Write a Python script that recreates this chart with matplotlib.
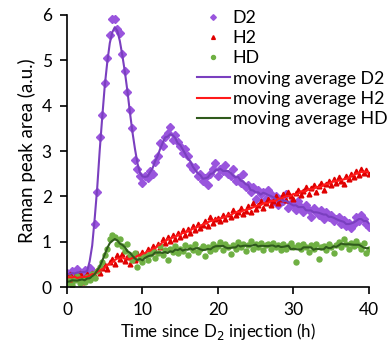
import matplotlib
matplotlib.use("Agg")
import matplotlib.pyplot as plt
import numpy as np
import pandas as pd

plt.rcParams["font.family"] = ["Lato", "DejaVu Sans"]

# -- Data (one sample every 1/3 h) ---------------------------------------------
time_h = np.linspace(0, 40, 121)

d2 = [0.30, 0.22, 0.35, 0.28, 0.40, 0.25, 0.32, 0.38, 0.30, 0.42,
      0.35, 1.40, 2.10, 3.30, 3.80, 4.50, 5.05, 5.55, 5.90, 5.90,
      5.70, 5.60, 5.15, 4.77, 4.30, 3.90, 3.50, 2.80, 2.60, 2.45,
      2.30, 2.45, 2.40, 2.55, 2.50, 2.75, 2.90, 3.17, 3.10, 3.30,
      3.40, 3.54, 3.25, 3.36, 3.20, 3.10, 2.95, 3.05, 2.88, 2.70,
      2.60, 2.65, 2.45, 2.50, 2.35, 2.40, 2.25, 2.50, 2.60, 2.73,
      2.45, 2.60, 2.55, 2.70, 2.50, 2.45, 2.60, 2.35, 2.40, 2.30,
      2.50, 2.20, 2.25, 2.10, 2.20, 1.95, 2.15, 2.05, 2.10, 1.95,
      2.15, 2.05, 1.90, 2.00, 1.80, 1.95, 1.90, 2.05, 1.75, 1.85,
      1.80, 1.70, 1.90, 1.77, 1.65, 1.80, 1.70, 1.55, 1.75, 1.65,
      1.60, 1.70, 1.50, 1.65, 1.55, 1.60, 1.45, 1.50, 1.55, 1.40,
      1.48, 1.35, 1.42, 1.30, 1.40, 1.55, 1.45, 1.60, 1.50, 1.40,
      1.33]

h2 = [0.20, 0.28, 0.15, 0.25, 0.18, 0.30, 0.12, 0.22, 0.28, 0.20,
      0.32, 0.25, 0.38, 0.30, 0.42, 0.48, 0.40, 0.55, 0.62, 0.50,
      0.70, 0.62, 0.72, 0.58, 0.66, 0.52, 0.70, 0.60, 0.75, 0.64,
      0.78, 0.70, 0.85, 0.75, 0.90, 0.80, 0.95, 0.88, 1.05, 0.98,
      1.10, 1.02, 1.15, 1.05, 1.20, 1.10, 1.25, 1.15, 1.28, 1.20,
      1.35, 1.25, 1.40, 1.30, 1.38, 1.45, 1.35, 1.55, 1.42, 1.50,
      1.52, 1.45, 1.60, 1.50, 1.62, 1.55, 1.70, 1.58, 1.65, 1.75,
      1.62, 1.68, 1.78, 1.65, 1.85, 1.72, 1.80, 1.90, 1.75, 1.85,
      1.95, 1.81, 1.90, 2.00, 1.85, 1.95, 2.05, 1.92, 2.10, 2.00,
      1.95, 2.08, 2.15, 2.02, 2.12, 2.20, 2.05, 2.18, 2.25, 2.10,
      2.22, 2.30, 2.15, 2.28, 2.35, 2.25, 2.38, 2.30, 2.42, 2.35,
      2.28, 2.45, 2.38, 2.50, 2.42, 2.55, 2.48, 2.60, 2.52, 2.58,
      2.50]

hd = [0.10, 0.20, 0.05, 0.15, 0.25, 0.08, 0.18, 0.12, 0.22, 0.15,
      0.28, 0.20, 0.35, 0.45, 0.55, 0.70, 0.85, 1.05, 1.15, 1.10,
      0.95, 1.05, 0.90, 0.80, 0.95, 0.70, 0.60, 0.75, 0.45, 0.65,
      0.55, 0.70, 0.60, 0.72, 0.80, 0.65, 0.75, 0.90, 0.70, 0.82,
      0.60, 0.85, 0.78, 0.90, 0.75, 0.85, 0.80, 0.92, 0.70, 0.88,
      0.82, 0.95, 0.78, 0.85, 0.90, 0.68, 0.88, 0.80, 0.95, 0.85,
      0.90, 1.00, 0.82, 0.95, 0.88, 0.72, 0.92, 0.85, 1.00, 0.88,
      0.95, 0.80, 0.92, 1.02, 0.85, 0.95, 0.88, 0.98, 0.82, 0.92,
      0.95, 0.85, 0.98, 0.88, 0.92, 0.82, 0.95, 0.85, 0.90, 0.98,
      0.88, 0.55, 0.92, 0.85, 0.95, 0.88, 0.78, 0.92, 0.85, 0.95,
      0.62, 0.88, 0.90, 0.82, 0.95, 0.88, 0.75, 0.92, 1.00, 0.88,
      1.05, 0.95, 0.85, 0.98, 0.90, 1.02, 0.92, 0.85, 0.98, 0.75,
      0.85]

WINDOW = 5

# -- Style ----------------------------------------------------------------------
D2_PT, D2_LN = "#9955dd", "#7a3fbf"
H2_PT, H2_LN = "#e00000", "#ff1a1a"
HD_PT, HD_LN = "#6fb043", "#2f5a1c"


def moving_average(vals):
    return pd.Series(vals).rolling(WINDOW, center=True, min_periods=1).mean().to_numpy()


fig = plt.figure(figsize=(3.92, 3.48), dpi=100)
ax = fig.add_axes([0.171, 0.175, 0.770, 0.782])

ax.plot(time_h, d2, linestyle="none", marker="D", markersize=3.6, color=D2_PT, label="D2")
ax.plot(time_h, h2, linestyle="none", marker="^", markersize=3.4, color=H2_PT, label="H2")
ax.plot(time_h, hd, linestyle="none", marker="o", markersize=3.6, color=HD_PT, label="HD")
ax.plot(time_h, moving_average(d2), color=D2_LN, linewidth=1.5, label="moving average D2")
ax.plot(time_h, moving_average(h2), color=H2_LN, linewidth=1.5, label="moving average H2")
ax.plot(time_h, moving_average(hd), color=HD_LN, linewidth=1.5, label="moving average HD")

ax.set_xlim(0, 40); ax.set_ylim(0, 6)
ax.set_xticks([0, 10, 20, 30, 40]); ax.set_yticks(range(7))
ax.spines["top"].set_visible(False); ax.spines["right"].set_visible(False)
for s in ("left", "bottom"):
    ax.spines[s].set_linewidth(1.2)
ax.tick_params(direction="out", length=5, width=1.2, labelsize=12.5, pad=6)

ax.set_xlabel("Time since D$_2$ injection (h)", fontsize=12.2, labelpad=2)
ax.set_ylabel("Raman peak area (a.u.)", fontsize=13.5, labelpad=4)

ax.legend(loc="upper right", bbox_to_anchor=(1.085, 1.045), frameon=False,
          fontsize=12.8, handlelength=1.85, handletextpad=0.17, labelspacing=0.24,
          borderaxespad=0, markerscale=0.8)

fig.savefig("out.png", dpi=100)
